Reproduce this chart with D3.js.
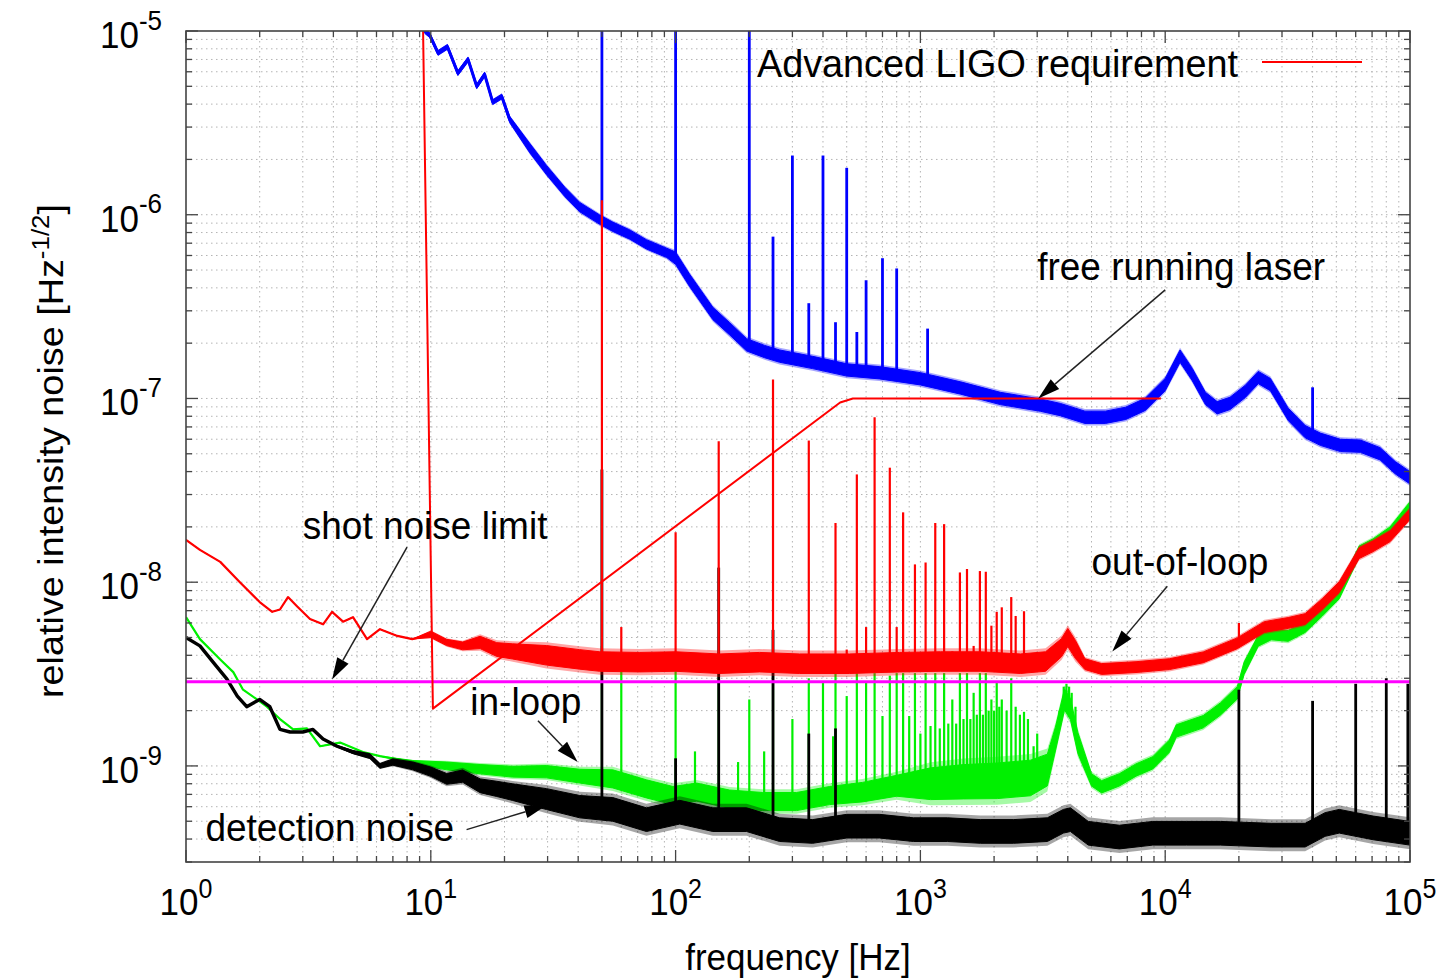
<!DOCTYPE html>
<html>
<head>
<meta charset="utf-8">
<script src="https://cdn.jsdelivr.net/npm/d3@7"></script>
<style>
html,body{margin:0;padding:0;background:#fff;}
svg{display:block;}
text{font-family:"Liberation Sans",Arial,Helvetica,sans-serif;fill:#000;}
</style>
</head>
<body>
<svg id="chart" width="1445" height="980"></svg>
<script>
// ---------------- DATA ----------------
// free running laser (blue): frequency [Hz], value, noise spread (ratio)
const blueFreq = [9.45, 9.9, 10.7, 11.7, 12.9, 14.2, 15.4, 16.6, 17.9, 19.5, 21.0, 25.4, 29.7, 35.3, 40.6, 49, 55.4, 65, 76, 92,
  100, 114, 142, 166, 195, 231, 266, 363, 500, 680, 1000, 1460, 2120, 3090, 3730, 4700, 5700, 6900, 8300, 10000,
  11500, 12900, 14600, 16300, 18400, 21200, 24000, 26900, 31800, 37300, 43000, 52000, 62700, 75500, 87000, 100000];
const blueValue = [1.0e-5, 9.5e-6, 7.6e-6, 8.2e-6, 5.9e-6, 7.0e-6, 5.0e-6, 5.8e-6, 4.1e-6, 4.4e-6, 3.3e-6, 2.3e-6, 1.75e-6, 1.33e-6, 1.1e-6, 9.4e-7, 8.6e-7, 7.8e-7, 6.9e-7, 6.2e-7,
  5.8e-7, 4.4e-7, 2.9e-7, 2.4e-7, 1.96e-7, 1.8e-7, 1.7e-7, 1.57e-7, 1.43e-7, 1.38e-7, 1.28e-7, 1.14e-7, 1.0e-7, 9.2e-8, 8.7e-8, 7.9e-8, 7.9e-8, 8.3e-8, 9.3e-8, 1.19e-7,
  1.7e-7, 1.35e-7, 1.0e-7, 8.9e-8, 9.4e-8, 1.09e-7, 1.3e-7, 1.19e-7, 8.2e-8, 6.6e-8, 6.0e-8, 5.55e-8, 5.5e-8, 5.0e-8, 4.2e-8, 3.7e-8];
const blueSpread = [1.03, 1.03, 1.03, 1.03, 1.03, 1.03, 1.03, 1.03, 1.03, 1.03, 1.04, 1.06, 1.06, 1.06, 1.06, 1.06, 1.06, 1.06, 1.06, 1.06,
  1.08, 1.08, 1.08, 1.08, 1.08, 1.08, 1.08, 1.08, 1.08, 1.08, 1.08, 1.08, 1.08, 1.08, 1.08, 1.08, 1.08, 1.08, 1.08, 1.08,
  1.08, 1.08, 1.08, 1.08, 1.08, 1.08, 1.08, 1.08, 1.08, 1.08, 1.08, 1.08, 1.08, 1.08, 1.08, 1.08];
const blueSpikeFreq = [50, 100, 200, 250, 300, 350, 400, 450, 500, 550, 600, 700, 800, 1070, 40000];
const blueSpikeValue = [2e-5, 2e-5, 2e-5, 7.6e-7, 2.1e-6, 3.3e-7, 2.1e-6, 2.6e-7, 1.8e-6, 2.3e-7, 4.4e-7, 5.8e-7, 5.1e-7, 2.4e-7, 1.15e-7];

// out-of-loop (red)
const redFreq = [1.0, 1.14, 1.38, 1.66, 2.0, 2.25, 2.42, 2.61, 2.84, 3.21, 3.63, 3.95, 4.38, 4.81, 5.49, 6.2, 7.3, 8.4, 10, 11.6,
  13.5, 15.9, 18.6, 21.6, 29.7, 40.6, 49, 71, 100, 151, 220, 321, 513, 822, 1207, 1758, 2562, 3245, 3770, 4000,
  4300, 4700, 5500, 7600, 10400, 14300, 19700, 25400, 31800, 37300, 43800, 51400, 62000, 70700, 83000, 100000];
const redValue = [1.7e-8, 1.5e-8, 1.29e-8, 1.0e-8, 7.8e-9, 6.9e-9, 7.1e-9, 8.3e-9, 7.4e-9, 6.3e-9, 5.9e-9, 6.9e-9, 6.1e-9, 6.45e-9, 4.9e-9, 5.55e-9, 5.1e-9, 4.9e-9, 5.2e-9, 4.7e-9,
  4.5e-9, 4.7e-9, 4.3e-9, 4.2e-9, 4.0e-9, 3.8e-9, 3.7e-9, 3.67e-9, 3.7e-9, 3.6e-9, 3.67e-9, 3.6e-9, 3.6e-9, 3.67e-9, 3.7e-9, 3.7e-9, 3.6e-9, 3.7e-9, 4.4e-9, 5.0e-9,
  4.3e-9, 3.58e-9, 3.37e-9, 3.45e-9, 3.58e-9, 3.9e-9, 4.65e-9, 5.7e-9, 6.0e-9, 6.3e-9, 7.6e-9, 9.4e-9, 1.44e-8, 1.57e-8, 1.78e-8, 2.35e-8];
const redSpread = [1.0, 1.0, 1.0, 1.0, 1.0, 1.0, 1.0, 1.0, 1.0, 1.0, 1.0, 1.0, 1.0, 1.0, 1.0, 1.0, 1.0, 1.0, 1.04, 1.04,
  1.05, 1.08, 1.09, 1.1, 1.13, 1.13, 1.13, 1.13, 1.13, 1.13, 1.13, 1.13, 1.13, 1.13, 1.13, 1.13, 1.13, 1.13, 1.12, 1.12,
  1.12, 1.07, 1.07, 1.07, 1.07, 1.07, 1.07, 1.07, 1.07, 1.07, 1.07, 1.07, 1.07, 1.07, 1.07, 1.07];
const redSpikeFreq = [50, 60, 100, 150, 250, 350, 450, 500, 550, 600, 650, 750, 800, 850, 950, 1050, 1150, 1250, 1350, 1450,
  1550, 1650, 1750, 1850, 1950, 2050, 2150, 2350, 2450, 2650, 20000];
const redSpikeValue = [1.2e-6, 5.7e-9, 1.87e-8, 5.85e-8, 1.27e-7, 5.9e-8, 2.1e-8, 4.3e-9, 3.86e-8, 5.7e-9, 7.9e-8, 4.2e-8, 5.7e-9, 2.4e-8, 1.25e-8, 1.28e-8, 2.1e-8, 2.07e-8, 4.2e-9, 1.13e-8,
  1.18e-8, 4.5e-9, 1.15e-8, 1.14e-8, 5.8e-9, 6.9e-9, 7.3e-9, 8.3e-9, 6.55e-9, 6.95e-9, 6.0e-9];

// in-loop (green)
const greenFreq = [1.0, 1.14, 1.38, 1.56, 1.71, 1.95, 2.14, 2.42, 2.74, 3.12, 3.53, 4.26, 5.28, 6.2, 8.44, 11.6, 15.9, 21.6, 29.7, 40.6,
  55.4, 76, 97.5, 122, 166, 227, 312, 426, 580, 800, 1100, 1500, 2060, 2815, 3300, 3560, 3880, 4100, 4400, 5000,
  5500, 6500, 7600, 8900, 10400, 11100, 14300, 16800, 19700, 21000, 24000, 27100, 31800, 37300, 43800, 51400, 62000, 70700, 83000, 100000];
const greenValue = [6.45e-9, 4.9e-9, 3.8e-9, 3.24e-9, 2.6e-9, 2.3e-9, 2.1e-9, 1.8e-9, 1.58e-9, 1.6e-9, 1.28e-9, 1.34e-9, 1.19e-9, 1.13e-9, 1.05e-9, 1.0e-9, 9.6e-10, 9.3e-10, 9.3e-10, 8.8e-10,
  8.5e-10, 7.5e-10, 6.9e-10, 7.2e-10, 6.6e-10, 6.4e-10, 6.4e-10, 6.9e-10, 7.2e-10, 7.8e-10, 8.0e-10, 8.2e-10, 8.3e-10, 8.6e-10, 9.5e-10, 1.4e-9, 2.3e-9, 2.04e-9, 1.33e-9, 8.4e-10,
  7.7e-10, 8.4e-10, 9.5e-10, 1.04e-9, 1.28e-9, 1.55e-9, 1.74e-9, 2.04e-9, 2.5e-9, 3.4e-9, 4.8e-9, 5.2e-9, 5.1e-9, 5.7e-9, 7.0e-9, 8.7e-9, 1.47e-8, 1.61e-8, 1.87e-8, 2.56e-8];
const greenSpread = [1.0, 1.0, 1.0, 1.0, 1.0, 1.0, 1.0, 1.0, 1.0, 1.0, 1.0, 1.0, 1.0, 1.0, 1.02, 1.05, 1.06, 1.07, 1.08, 1.09,
  1.12, 1.12, 1.12, 1.12, 1.12, 1.12, 1.12, 1.12, 1.13, 1.14, 1.22, 1.24, 1.25, 1.25, 1.22, 1.16, 1.14, 1.14, 1.14, 1.08,
  1.08, 1.08, 1.08, 1.08, 1.08, 1.08, 1.08, 1.08, 1.08, 1.08, 1.07, 1.07, 1.07, 1.07, 1.07, 1.07, 1.07, 1.07, 1.07, 1.07];
const greenSpikeFreq = [50, 60, 100, 120, 150, 180, 200, 230, 250, 300, 350, 400, 440, 450, 500, 550, 600, 650, 700, 750,
  800, 850, 900, 950, 1000, 1050, 1100, 1150, 1200, 1250, 1300, 1350, 1400, 1450, 1500, 1550, 1600, 1650, 1700, 1750,
  1800, 1850, 1900, 1950, 2000, 2050, 2100, 2150, 2250, 2350, 2450, 2550, 2650, 2750, 2900, 3000, 3200, 3400, 3700, 3850,
  3950, 4050, 4150, 4300];
const greenSpikeValue = [4.5e-9, 3.4e-9, 3.95e-9, 1.2e-9, 3.4e-9, 1.05e-9, 2.3e-9, 1.2e-9, 3.4e-9, 1.8e-9, 3.0e-9, 2.9e-9, 1.45e-9, 3.2e-9, 2.4e-9, 3.2e-9, 2.9e-9, 3.2e-9, 1.87e-9, 3.1e-9,
  3.2e-9, 3.2e-9, 1.87e-9, 3.2e-9, 1.5e-9, 3.2e-9, 1.65e-9, 3.2e-9, 1.6e-9, 3.2e-9, 1.7e-9, 2.3e-9, 1.7e-9, 3.2e-9, 1.8e-9, 3.2e-9, 1.8e-9, 2.5e-9, 1.9e-9, 3.2e-9,
  1.9e-9, 3.2e-9, 2.0e-9, 2.3e-9, 2.0e-9, 2.9e-9, 2.1e-9, 2.3e-9, 2.0e-9, 3.0e-9, 2.1e-9, 1.9e-9, 1.97e-9, 1.8e-9, 1.28e-9, 1.5e-9, 1.05e-9, 1.3e-9, 2.0e-9, 2.7e-9,
  2.8e-9, 2.7e-9, 2.5e-9, 2.1e-9];

// detection noise (black)
const blackFreq = [1.0, 1.14, 1.29, 1.47, 1.62, 1.77, 2.0, 2.2, 2.42, 2.66, 3.0, 3.3, 3.63, 4.14, 4.81, 5.64, 6.2, 7.0, 8.44, 10,
  11.6, 13.5, 15.9, 18.6, 21.6, 29.7, 40.6, 55.4, 76, 104, 142, 195, 266, 363, 500, 680, 937, 1290, 1760, 2400,
  3300, 3840, 4100, 4850, 6500, 8900, 12200, 16800, 27100, 37300, 45000, 51400, 70700, 100000];
const blackValue = [5.0e-9, 4.5e-9, 3.67e-9, 2.97e-9, 2.4e-9, 2.1e-9, 2.3e-9, 2.1e-9, 1.58e-9, 1.53e-9, 1.53e-9, 1.58e-9, 1.4e-9, 1.28e-9, 1.19e-9, 1.13e-9, 1.0e-9, 1.05e-9, 1.0e-9, 9.3e-10,
  8.5e-10, 8.8e-10, 7.8e-10, 7.5e-10, 7.2e-10, 6.6e-10, 6.0e-10, 5.8e-10, 5.1e-10, 5.6e-10, 5.1e-10, 5.1e-10, 4.5e-10, 4.4e-10, 4.7e-10, 4.7e-10, 4.5e-10, 4.5e-10, 4.4e-10, 4.4e-10,
  4.5e-10, 5.0e-10, 5.1e-10, 4.3e-10, 4.1e-10, 4.3e-10, 4.3e-10, 4.3e-10, 4.2e-10, 4.2e-10, 4.8e-10, 5.0e-10, 4.6e-10, 4.3e-10];
const blackSpread = [1.0, 1.0, 1.0, 1.0, 1.0, 1.0, 1.0, 1.0, 1.0, 1.0, 1.0, 1.0, 1.0, 1.01, 1.02, 1.03, 1.03, 1.04, 1.05, 1.06,
  1.07, 1.08, 1.09, 1.1, 1.11, 1.14, 1.15, 1.16, 1.16, 1.16, 1.16, 1.16, 1.16, 1.16, 1.16, 1.16, 1.16, 1.16, 1.16, 1.16,
  1.16, 1.16, 1.16, 1.16, 1.16, 1.16, 1.16, 1.16, 1.16, 1.16, 1.16, 1.16, 1.16, 1.16];
const blackSpikeFreq = [50, 100, 150, 250, 350, 450, 20000, 40000, 60000, 80000, 98000];
const blackSpikeValue = [4.1e-8, 1.1e-9, 1.2e-8, 5.5e-9, 1.5e-9, 1.6e-9, 2.6e-9, 2.26e-9, 2.8e-9, 3.0e-9, 2.8e-9];

// shot noise limit (magenta)
const shotFreq = [1, 100000];
const shotValue = [2.87e-9, 2.87e-9];

// Advanced LIGO requirement (red)
const reqFreq = [9.3, 10.2, 470, 530, 9600];
const reqValue = [1.0e-5, 2.05e-9, 9.5e-8, 1.0e-7, 1.0e-7];

// axis tick labels
const xTickExp = [0, 1, 2, 3, 4, 5];
const yTickExp = [-9, -8, -7, -6, -5];

// annotations: label anchor (freq,value) and arrow (from -> to)
const notes = [
  {text: "free running laser", f: 3000, v: 4.43e-7, from: [1.0e4, 3.9e-7], to: [3030, 1.0e-7]},
  {text: "shot noise limit", f: 3.0, v: 1.71e-8, from: [8.0, 1.55e-8], to: [3.95, 2.95e-9]},
  {text: "out-of-loop", f: 5000, v: 1.1e-8, from: [1.02e4, 9.5e-9], to: [6080, 4.2e-9]},
  {text: "in-loop", f: 14.5, v: 1.9e-9, from: [27.4, 1.76e-9], to: [39.8, 1.05e-9]},
  {text: "detection noise", f: 1.2, v: 3.9e-10, from: [14.0, 4.5e-10], to: [29.7, 6.1e-10]}
];

// ---------------- DRAWING ----------------
const svg = d3.select("#chart");
const M = {left: 186, right: 1410, top: 31, bottom: 862};
const x = d3.scaleLog().domain([1, 1e5]).range([M.left, M.right]);
const y = d3.scaleLog().domain([3e-10, 1e-5]).range([M.bottom, M.top]);

svg.append("rect").attr("width", 1445).attr("height", 980).attr("fill", "#fff");

svg.append("defs").append("clipPath").attr("id", "plotclip")
  .append("rect").attr("x", M.left).attr("y", M.top)
  .attr("width", M.right - M.left).attr("height", M.bottom - M.top);

// tick values
const xTicks = [];
for (let k = 0; k <= 4; k++) for (let m = 1; m <= 9; m++) xTicks.push(+(m + "e" + k));
xTicks.push(1e5);
const yTicks = [];
for (let k = -10; k <= -6; k++) for (let m = 1; m <= 9; m++) {
  const v = +(m + "e" + k);
  if (v >= 3e-10 - 1e-22) yTicks.push(v);
}
yTicks.push(1e-5);
const isMajor = v => Math.abs(Math.log10(v) - Math.round(Math.log10(v))) < 1e-6;

// grid
const grid = svg.append("g");
xTicks.forEach(v => {
  const px = x(v);
  if (px <= M.left + 0.5 || px >= M.right - 0.5) return;
  grid.append("line").attr("x1", px).attr("x2", px).attr("y1", M.top).attr("y2", M.bottom)
    .attr("stroke", "#b4b4b4").attr("stroke-width", 1).attr("stroke-dasharray", "1.5,3.5");
});
yTicks.forEach(v => {
  const py = y(v);
  if (py <= M.top + 0.5 || py >= M.bottom - 0.5) return;
  grid.append("line").attr("x1", M.left).attr("x2", M.right).attr("y1", py).attr("y2", py)
    .attr("stroke", "#b4b4b4").attr("stroke-width", 1).attr("stroke-dasharray", "1.5,3.5");
});

const plot = svg.append("g").attr("clip-path", "url(#plotclip)");

function zip(fs, vs, ss) { return fs.map((f, i) => ({f: f, v: vs[i], s: ss ? ss[i] : 1})); }
function baseAt(fs, vs, f) {
  const lf = Math.log10(f);
  for (let i = 0; i < fs.length - 1; i++) {
    const a = Math.log10(fs[i]), b = Math.log10(fs[i + 1]);
    if (lf >= a && lf <= b) {
      const t = (lf - a) / (b - a);
      return Math.pow(10, Math.log10(vs[i]) * (1 - t) + Math.log10(vs[i + 1]) * t);
    }
  }
  return vs[vs.length - 1];
}
function drawSeries(fs, vs, ss, sf, sv, color, lw, sw) {
  const data = zip(fs, vs, ss);
  const g = plot.append("g");
  // spikes
  sf.forEach((f, i) => {
    const b = baseAt(fs, vs, f);
    g.append("line").attr("x1", x(f)).attr("x2", x(f)).attr("y1", y(b)).attr("y2", y(sv[i]))
      .attr("stroke", color).attr("stroke-width", sw);
  });
  // soft outer fringe of the noise band
  g.append("path").datum(data)
    .attr("d", d3.area().x(d => x(d.f)).y0(d => y(d.v / Math.pow(d.s, 1.35))).y1(d => y(d.v * Math.pow(d.s, 1.35))))
    .attr("fill", color).attr("fill-opacity", 0.35).attr("stroke", "none");
  // noise band
  g.append("path").datum(data)
    .attr("d", d3.area().x(d => x(d.f)).y0(d => y(d.v / d.s)).y1(d => y(d.v * d.s)))
    .attr("fill", color).attr("stroke", color).attr("stroke-width", 1).attr("stroke-linejoin", "round");
  // centre line
  g.append("path").datum(data)
    .attr("d", d3.line().x(d => x(d.f)).y(d => y(d.v)))
    .attr("fill", "none").attr("stroke", color).attr("stroke-width", lw).attr("stroke-linejoin", "round");
}

drawSeries(blueFreq, blueValue, blueSpread, blueSpikeFreq, blueSpikeValue, "#0000ff", 3, 2.8);
drawSeries(greenFreq, greenValue, greenSpread, greenSpikeFreq, greenSpikeValue, "#00f000", 2.2, 2.2);
drawSeries(blackFreq, blackValue, blackSpread, blackSpikeFreq, blackSpikeValue, "#000000", 3.4, 2.8);
drawSeries(redFreq, redValue, redSpread, redSpikeFreq, redSpikeValue, "#ff0000", 2.2, 2.2);

// shot noise limit
plot.append("path").datum(zip(shotFreq, shotValue))
  .attr("d", d3.line().x(d => x(d.f)).y(d => y(d.v)))
  .attr("fill", "none").attr("stroke", "#ff00ff").attr("stroke-width", 3);

// requirement
plot.append("path").datum(zip(reqFreq, reqValue))
  .attr("d", d3.line().x(d => x(d.f)).y(d => y(d.v)))
  .attr("fill", "none").attr("stroke", "#ff0000").attr("stroke-width", 2).attr("stroke-linejoin", "round");

// frame
svg.append("rect").attr("x", M.left).attr("y", M.top).attr("width", M.right - M.left).attr("height", M.bottom - M.top)
  .attr("fill", "none").attr("stroke", "#444").attr("stroke-width", 1.6);

// ticks on all four sides (inward)
const tk = svg.append("g").attr("stroke", "#444").attr("stroke-width", 1.3);
xTicks.forEach(v => {
  const px = x(v), L = isMajor(v) ? 12 : 6;
  tk.append("line").attr("x1", px).attr("x2", px).attr("y1", M.bottom).attr("y2", M.bottom - L);
  tk.append("line").attr("x1", px).attr("x2", px).attr("y1", M.top).attr("y2", M.top + L);
});
yTicks.forEach(v => {
  const py = y(v), L = isMajor(v) ? 12 : 6;
  tk.append("line").attr("x1", M.left).attr("x2", M.left + L).attr("y1", py).attr("y2", py);
  tk.append("line").attr("x1", M.right).attr("x2", M.right - L).attr("y1", py).attr("y2", py);
});

// text helper with superscripts
function label(px, py, parts, o) {
  const t = svg.append("text")
    .attr("transform", `translate(${px},${py})${o.rotate ? " rotate(-90)" : ""} scale(${o.sx || 1},${o.sy || 1})`)
    .attr("font-size", o.size).attr("text-anchor", o.anchor || "start");
  let cur = 0;
  parts.forEach(p => {
    const sup = Array.isArray(p);
    const s = sup ? p[0] : p;
    const target = sup ? -o.rise : 0;
    const ts = t.append("tspan").text(s).attr("dy", target - cur);
    if (sup) ts.attr("font-size", o.supSize);
    cur = target;
  });
  return t;
}

// tick labels
xTickExp.forEach(k => {
  label(x(Math.pow(10, k)), M.bottom + 53, ["10", [String(k)]], {size: 35, supSize: 25, rise: 16, anchor: "middle", sy: 1.08});
});
yTickExp.forEach(k => {
  label(M.left - 24, y(Math.pow(10, k)) + 17, ["10", ["-" + Math.abs(k)]], {size: 35, supSize: 26, rise: 17, anchor: "end", sy: 1.08});
});

// axis titles
label((M.left + M.right) / 2, 970, ["frequency [Hz]"], {size: 35, anchor: "middle", sy: 1.08});
label(63, 451, ["relative intensity noise [Hz", ["-1/2"], "]"], {size: 35, supSize: 24, rise: 14, anchor: "middle", rotate: true, sx: 1.08});

// legend
label(1238, 77, ["Advanced LIGO requirement"], {size: 37.8, anchor: "end", sy: 1.05});
svg.append("line").attr("x1", 1262).attr("x2", 1362).attr("y1", 62).attr("y2", 62)
  .attr("stroke", "#ff0000").attr("stroke-width", 2);

// annotations
notes.forEach(n => {
  label(x(n.f), y(n.v), [n.text], {size: 37, sy: 1.05});
  const x1 = x(n.from[0]), y1 = y(n.from[1]), x2 = x(n.to[0]), y2 = y(n.to[1]);
  const dx = x2 - x1, dy = y2 - y1, len = Math.hypot(dx, dy);
  const ux = dx / len, uy = dy / len, hl = 22, hw = 6.5;
  const bx = x2 - ux * hl, by = y2 - uy * hl;
  svg.append("line").attr("x1", x1).attr("y1", y1).attr("x2", bx).attr("y2", by)
    .attr("stroke", "#222").attr("stroke-width", 1.5);
  svg.append("path")
    .attr("d", `M${x2},${y2}L${bx - uy * hw},${by + ux * hw}L${bx + uy * hw},${by - ux * hw}Z`)
    .attr("fill", "#000");
});
</script>
</body>
</html>
